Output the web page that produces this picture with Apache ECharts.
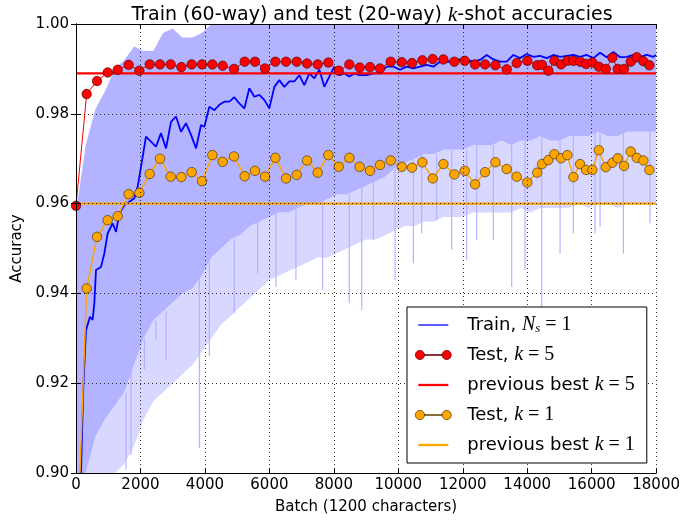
<!DOCTYPE html>
<html><head><meta charset="utf-8">
<script src="https://cdn.jsdelivr.net/npm/echarts@6/dist/echarts.min.js"></script>
<style>html,body{margin:0;padding:0;background:#fff}#c{width:683px;height:521px}</style>
</head><body><div id="c"></div><script>
// ---------------- data ----------------
const xTickValues = [0,2000,4000,6000,8000,10000,12000,14000,16000,18000];
const yTickLabels = ['0.90','0.92','0.94','0.96','0.98','1.00'];

// smoothed training accuracy (blue)
const trainBatch = [0,227,310,434,517,569,621,776,879,983,1138,1241,1345,1500,1655,1810,1914,2017,2172,2327,2482,2637,2793,2948,3103,3258,3413,3569,3724,3879,3982,4137,4292,4447,4602,4757,4913,5068,5223,5378,5533,5688,5843,5998,6154,6309,6464,6619,6774,6929,7084,7240,7395,7550,7705,7860,8015,8170,8325,8481,8636,8791,9020,9227,9434,9641,9847,10054,10261,10467,10674,10881,11088,11295,11502,11708,11915,12122,12329,12536,12743,12950,13157,13364,13571,13778,13985,14191,14398,14605,14812,15019,15226,15432,15639,15846,16053,16260,16467,16674,16881,17088,17295,17501,17708,17915,18000];
const trainAcc = [0.859,0.9192,0.9318,0.9348,0.9341,0.9378,0.9452,0.9459,0.9489,0.9534,0.9556,0.9537,0.9578,0.9597,0.9604,0.9612,0.9638,0.9682,0.9749,0.9738,0.9727,0.9757,0.9723,0.9782,0.9794,0.9760,0.9779,0.9753,0.9723,0.9775,0.9771,0.9816,0.9808,0.9820,0.9827,0.9827,0.9837,0.9823,0.9812,0.9857,0.9838,0.9842,0.9831,0.9812,0.9860,0.9875,0.9860,0.9872,0.9872,0.9886,0.9864,0.9890,0.9879,0.9898,0.9860,0.9883,0.9905,0.9886,0.9890,0.9883,0.9890,0.9886,0.9886,0.9890,0.9890,0.9905,0.9905,0.9898,0.9905,0.9901,0.9905,0.9909,0.9905,0.9916,0.9915,0.9918,0.9921,0.9920,0.9916,0.9920,0.9931,0.9921,0.9916,0.9916,0.9931,0.9924,0.9933,0.9927,0.9929,0.9924,0.9931,0.9927,0.9929,0.9931,0.9927,0.9931,0.9924,0.9936,0.9926,0.9938,0.9926,0.9927,0.9931,0.9927,0.9931,0.9927,0.9931];

// raw per-batch training accuracy (light band): upper edge, dense lower edge, sparse lower edge
const bandBatch = [0,300,600,900,1200,1500,1800,2100,2400,2700,3000,3300,3600,3900,4200,4500,4800,5100,5400,5700,6000,6300,6600,6900,7200,7500,7800,8100,8400,8700,9000,9300,9600,9900,10200,10500,10800,11100,11400,11700,12000,12300,12600,12900,13200,13500,13800,14100,14400,14700,15000,15300,15600,15900,16200,16500,16800,17100,17400,17700,18000];
const bandTop = [0.958,0.973,0.981,0.985,0.990,0.992,0.995,0.994,0.994,0.998,0.999,0.997,0.997,0.998,1,1,1,1,1,1,1,1,1,1,1,1,1,1,1,1,1,1,1,1,1,1,1,1,1,1,1,1,1,1,1,1,1,1,1,1,1,1,1,1,1,1,1,1,1,1,1];
const bandMid = [0.900,0.900,0.908,0.912,0.915,0.918,0.924,0.930,0.934,0.936,0.938,0.940,0.941,0.944,0.948,0.950,0.952,0.953,0.955,0.956,0.957,0.958,0.958,0.959,0.960,0.960,0.961,0.962,0.962,0.963,0.964,0.965,0.966,0.968,0.969,0.970,0.971,0.971,0.972,0.972,0.972,0.973,0.973,0.973,0.974,0.973,0.974,0.974,0.975,0.974,0.974,0.975,0.975,0.975,0.976,0.975,0.975,0.976,0.976,0.976,0.976];
const bandLow = [0.900,0.900,0.900,0.900,0.900,0.902,0.906,0.912,0.916,0.918,0.920,0.922,0.924,0.927,0.930,0.933,0.935,0.937,0.939,0.941,0.943,0.944,0.945,0.946,0.947,0.948,0.948,0.949,0.950,0.951,0.952,0.952,0.953,0.954,0.955,0.955,0.956,0.956,0.957,0.957,0.957,0.958,0.958,0.958,0.958,0.958,0.959,0.958,0.959,0.959,0.959,0.959,0.960,0.959,0.960,0.960,0.959,0.960,0.960,0.960,0.960];
const spikeBatch = [1551,1706,2120,2482,2792,3826,4136,4912,5635,6204,6824,7652,8479,8865,9227,9899,10467,10726,11191,11657,12122,12432,12950,13518,13932,14449,15019,15432,16105,16260,16984,17808];
const spikeMin = [0.9007,0.904,0.923,0.9296,0.925,0.9055,0.926,0.9356,0.9445,0.9415,0.943,0.9408,0.9378,0.9363,0.9519,0.943,0.9467,0.9534,0.9563,0.9497,0.9474,0.9519,0.9519,0.9415,0.9452,0.937,0.9489,0.9534,0.9534,0.9549,0.9489,0.9556];

// test accuracies
const testBatch = [0,331,652,983,1293,1634,1966,2287,2607,2937,3268,3589,3910,4231,4551,4903,5234,5554,5865,6186,6517,6848,7168,7499,7830,8150,8481,8802,9123,9434,9765,10106,10426,10747,11068,11399,11740,12061,12381,12691,13012,13364,13674,14005,14310,14460,14656,14842,15050,15246,15432,15640,15826,16022,16220,16437,16643,16809,17005,17212,17398,17604,17790];
const testK5 = [0.9595,0.9844,0.9873,0.9892,0.9898,0.9909,0.9896,0.9910,0.9910,0.9910,0.9904,0.9910,0.9910,0.9910,0.9907,0.9900,0.9916,0.9916,0.9901,0.9916,0.9916,0.9916,0.9912,0.9910,0.9914,0.9896,0.9910,0.9903,0.9904,0.9901,0.9916,0.9915,0.9913,0.9919,0.9922,0.9921,0.9916,0.9918,0.9910,0.9910,0.9908,0.9899,0.9913,0.9918,0.9908,0.9909,0.9896,0.9918,0.9910,0.9918,0.9918,0.9916,0.9911,0.9914,0.9905,0.9900,0.9925,0.9900,0.9900,0.9916,0.9926,0.9917,0.9908];
const testK1 = [0.876,0.9411,0.9526,0.9563,0.9572,0.9621,0.9624,0.9666,0.9700,0.9660,0.9659,0.9670,0.9650,0.9708,0.9693,0.9705,0.9661,0.9673,0.9660,0.9702,0.9656,0.9664,0.9696,0.9669,0.9708,0.9682,0.9702,0.9682,0.9673,0.9686,0.9696,0.9682,0.9680,0.9692,0.9656,0.9688,0.9665,0.9673,0.9643,0.9670,0.9692,0.9677,0.9660,0.9647,0.9669,0.9688,0.9697,0.9710,0.9701,0.9708,0.9659,0.9688,0.9675,0.9675,0.9719,0.9681,0.9691,0.9701,0.9684,0.9716,0.9702,0.9696,0.9675];
const prevBestK5 = 0.989;
const prevBestK1 = 0.960;
const xRange = [0, 18000];

// ---------------- chart ----------------
const pairs = (xs, ys) => xs.map((x, i) => [x, ys[i]]);
const BAND_DENSE = '#b3b3ff';
const BAND_SPARSE = '#d7d7ff';

function bandSeries(lowArr, highArr, color) {
  return {
    type: 'custom', z: 1, silent: true, clip: true,
    data: [[bandBatch[0], highArr[0]]],
    encode: {x: 0, y: 1},
    renderItem: function (params, api) {
      const pts = [];
      for (let i = 0; i < bandBatch.length; i++) pts.push(api.coord([bandBatch[i], highArr[i]]));
      for (let i = bandBatch.length - 1; i >= 0; i--) pts.push(api.coord([bandBatch[i], lowArr[i]]));
      return {type: 'polygon', shape: {points: pts}, style: {fill: color, stroke: null}};
    }
  };
}
function nearestMid(x) {
  let best = 0;
  for (let i = 0; i < bandBatch.length; i++) if (Math.abs(bandBatch[i] - x) < Math.abs(bandBatch[best] - x)) best = i;
  return bandMid[best];
}

const serif = 'Liberation Serif';
const sans = 'DejaVu Sans';
const LF = 18;
const richText = {
  p: {fontFamily: sans, fontSize: LF, color: '#000', lineHeight: 20, padding: [0, 0, 0, 11]},
  m: {fontFamily: serif, fontStyle: 'italic', fontSize: 20, color: '#000', lineHeight: 20},
  r: {fontFamily: serif, fontSize: 20, color: '#000', lineHeight: 20},
  s: {fontFamily: serif, fontStyle: 'italic', fontSize: 13, color: '#000', lineHeight: 20, verticalAlign: 'bottom'}
};
const legendLabels = {
  train: '{p|Train, }{m|N}{s|s}{r| = 1}',
  test5: '{p|Test, }{m|k}{r| = 5}',
  prev5: '{p|previous best }{m|k}{r| = 5}',
  test1: '{p|Test, }{m|k}{r| = 1}',
  prev1: '{p|previous best }{m|k}{r| = 1}'
};
const dotIcon = 'path://M0.5,5a4.5,4.5 0 1,0 9,0a4.5,4.5 0 1,0 -9,0Z M26.5,5a4.5,4.5 0 1,0 9,0a4.5,4.5 0 1,0 -9,0Z M9.5,4.6L26.5,4.6L26.5,5.4L9.5,5.4Z';
const thinLineIcon = 'path://M0,0L0,0M36,10L36,10M3,4.35L33,4.35L33,5.65L3,5.65Z';
const thickLineIcon = 'path://M0,0L0,0M36,10L36,10M3,3.85L33,3.85L33,6.15L3,6.15Z';

const axisCommon = {
  type: 'value', z: 5,
  axisLine: {show: true, lineStyle: {color: '#000', width: 1}},
  axisTick: {show: true, inside: true, length: 5, lineStyle: {color: '#000', width: 1}},
};
const TF = 15;

const chart = echarts.init(document.getElementById('c'), null, {renderer: 'canvas'});
chart.setOption({
  animation: false,
  backgroundColor: '#fff',
  title: {
    text: '{t|Train (60-way) and test (20-way) }{m|k}{t|-shot accuracies}',
    left: 367, top: 0, textAlign: 'center',
    textStyle: {fontWeight: 'normal', rich: {
      t: {fontFamily: sans, fontSize: 19, fontWeight: 'normal', color: '#000'},
      m: {fontFamily: serif, fontStyle: 'italic', fontWeight: 'normal', fontSize: 21, color: '#000'}
    }}
  },
  grid: {left: 76, right: 26, top: 24, bottom: 48, show: false},
  legend: {
    orient: 'vertical', left: 407, top: 307, z: 10,
    backgroundColor: '#fff', borderColor: '#000', borderWidth: 1, borderRadius: 0,
    padding: [8, 12, 8, 8],
    itemWidth: 36, itemHeight: 10, itemGap: 10,
    textStyle: {rich: richText},
    formatter: name => legendLabels[name],
    data: [
      {name: 'train', icon: thinLineIcon, itemStyle: {borderWidth: 0}},
      {name: 'test5', icon: dotIcon, itemStyle: {borderColor: '#300', borderWidth: 0.6}},
      {name: 'prev5', icon: thickLineIcon, itemStyle: {borderWidth: 0}},
      {name: 'test1', icon: dotIcon, itemStyle: {borderColor: '#320', borderWidth: 0.6}},
      {name: 'prev1', icon: thickLineIcon, itemStyle: {borderWidth: 0}}
    ]
  },
  xAxis: [
    Object.assign({}, axisCommon, {
      min: xRange[0], max: xRange[1], interval: 2000, position: 'bottom',
      name: 'Batch (1200 characters)', nameLocation: 'middle', nameGap: 27,
      nameTextStyle: {fontFamily: sans, fontSize: TF, color: '#000'},
      axisLabel: {fontFamily: sans, fontSize: TF, color: '#000', margin: 5,
        formatter: v => (xTickValues.indexOf(v) >= 0 ? String(v) : '')},
      splitLine: {show: true, lineStyle: {color: '#000', width: 0.8, type: [1, 3]}}
    }),
    Object.assign({}, axisCommon, {
      min: xRange[0], max: xRange[1], interval: 2000, position: 'top',
      axisLabel: {show: false}, splitLine: {show: false}
    })
  ],
  yAxis: [
    Object.assign({}, axisCommon, {
      min: 0.9, max: 1.0, interval: 0.02, position: 'left',
      name: 'Accuracy', nameLocation: 'middle', nameGap: 50,
      nameTextStyle: {fontFamily: sans, fontSize: TF, color: '#000'},
      axisLabel: {fontFamily: sans, fontSize: TF, color: '#000', margin: 7,
        formatter: v => yTickLabels[Math.round((v - 0.9) / 0.02)]},
      splitLine: {show: true, lineStyle: {color: '#000', width: 0.8, type: [1, 3]}}
    }),
    Object.assign({}, axisCommon, {
      min: 0.9, max: 1.0, interval: 0.02, position: 'right',
      axisLabel: {show: false}, splitLine: {show: false}
    })
  ],
  series: [
    bandSeries(bandLow, bandMid, BAND_SPARSE),
    bandSeries(bandMid, bandTop, BAND_DENSE),
    {
      type: 'custom', z: 1, silent: true, clip: true,
      data: pairs(spikeBatch, spikeMin), encode: {x: 0, y: 1},
      renderItem: function (params, api) {
        const x = api.value(0), y = api.value(1);
        const p1 = api.coord([x, y]);
        const p2 = api.coord([x, nearestMid(x)]);
        return {type: 'line', shape: {x1: p1[0], y1: p1[1], x2: p2[0], y2: p2[1]},
          style: {stroke: BAND_DENSE, lineWidth: 1.2}};
      }
    },
    {
      name: 'train', type: 'line', data: pairs(trainBatch, trainAcc), z: 2,
      showSymbol: false, symbol: 'none', clip: true,
      lineStyle: {color: '#0000ff', width: 1.8}, itemStyle: {color: '#0000ff'}
    },
    {
      name: 'prev5', type: 'line', data: [[xRange[0], prevBestK5], [xRange[1], prevBestK5]], z: 3,
      symbol: 'none', lineStyle: {color: '#ff0000', width: 2.2}, itemStyle: {color: '#ff0000'}
    },
    {
      name: 'test5', type: 'line', data: pairs(testBatch, testK5), z: 3, clip: false,
      symbol: 'circle', symbolSize: 9.5, showAllSymbol: true,
      lineStyle: {color: '#ff0000', width: 1},
      itemStyle: {color: '#ff0000', borderColor: '#300', borderWidth: 0.6}
    },
    {
      name: 'prev1', type: 'line', data: [[xRange[0], prevBestK1], [xRange[1], prevBestK1]], z: 3,
      symbol: 'none', lineStyle: {color: '#ffa500', width: 2.2}, itemStyle: {color: '#ffa500'}
    },
    {
      name: 'test1', type: 'line', data: pairs(testBatch, testK1), z: 3, clip: true,
      symbol: 'circle', symbolSize: 9.5, showAllSymbol: true,
      lineStyle: {color: '#ffa500', width: 1.5},
      itemStyle: {color: '#ffa500', borderColor: '#320', borderWidth: 0.6}
    }
  ]
});
</script></body></html>
